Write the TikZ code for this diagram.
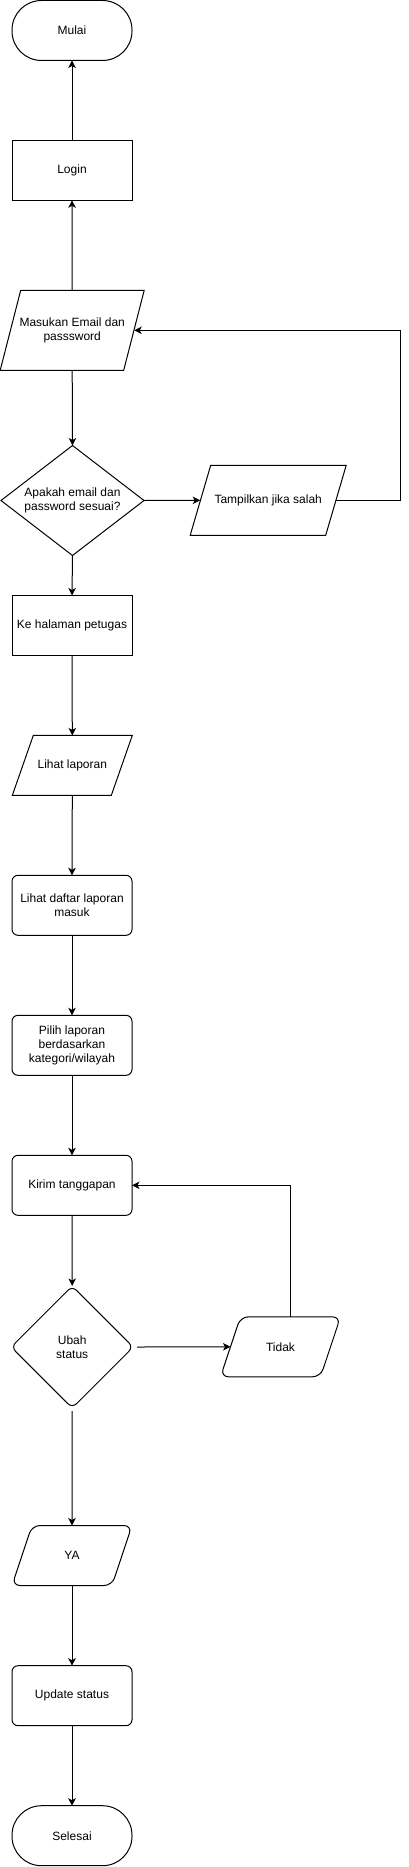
\documentclass[tikz,border=0pt]{standalone}
\usepackage{fontspec}
\setmainfont{Liberation Sans}
\usetikzlibrary{shapes.geometric,arrows.meta}
\newcommand{\drawpara}[3][]{\draw[line width=1pt,#1] ([xshift=#3pt]#2.north west) -- (#2.north east) -- ([xshift=-#3pt]#2.south east) -- (#2.south west) -- cycle;}
\begin{document}
\begin{tikzpicture}[x=1pt,y=-1pt,
  every node/.style={font=\fontsize{12}{14.4}\selectfont, align=center, inner sep=0pt, outer sep=0pt},
  base/.style={draw, line width=1pt, fill=white},
  term/.style={base, rectangle, rounded corners=29.5pt, minimum width=120pt, minimum height=60pt},
  proc/.style={base, rectangle, minimum width=120pt, minimum height=60pt},
  rproc/.style={proc, rounded corners=6pt},
  io/.style={rectangle, minimum width=120pt, minimum height=60pt},
  dec/.style={base, diamond, aspect=1.3},
  arr/.style={line width=1pt, -{Stealth[length=7.5pt,width=7.5pt,inset=2pt]}}
]
\useasboundingbox (0,0) rectangle (409,1867);

\node[term] (mulai) at (72,30.5) {Mulai};
\node[proc] (login) at (72,170.3) {Login};
\node[io, minimum width=144pt, minimum height=80pt] (mas) at (72.2,330.3) {Masukan Email dan\\passsword};
\drawpara{mas}{20.5}
\node[dec, minimum width=143pt, minimum height=110pt] (d1) at (72.5,500.5) {Apakah email dan\\password sesuai?};
\node[io, minimum width=156pt, minimum height=70pt] (tamp) at (268.2,500.3) {Tampilkan jika salah};
\drawpara{tamp}{20.5}
\node[proc] (ke) at (72,625.5) {Ke halaman petugas};
\node[io] (lihat) at (72.3,765.4) {Lihat laporan};
\drawpara{lihat}{21}
\node[rproc] (daftar) at (72,905.3) {Lihat daftar laporan\\masuk};
\node[rproc] (pilih) at (72,1045.3) {Pilih laporan\\berdasarkan\\kategori/wilayah};
\node[rproc] (kirim) at (72,1185.3) {Kirim tanggapan};
\node[dec, rounded corners=6pt, minimum width=122pt, minimum height=122pt] (d2) at (72.2,1347) {Ubah\\status};
\node[io] (tidak) at (280.5,1346.8) {Tidak};
\drawpara[rounded corners=8pt]{tidak}{20}
\node[io] (ya) at (72,1555.5) {YA};
\drawpara[rounded corners=8pt]{ya}{20}
\node[rproc] (upd) at (72,1695.7) {Update status};
\node[term] (sel) at (72,1835.7) {Selesai};

\coordinate (r1) at (400,0);

\draw[arr] (login.north) -- (mulai.south);
\draw[arr] (mas.north) -- (login.south);
\draw[arr] (mas.south) -- (d1.north);
\draw[arr] (d1.east) -- ([xshift=10pt]tamp.west);
\draw[arr] ([xshift=-10pt]tamp.east) -- (tamp.east -| r1) |- ([xshift=-10pt]mas.east);
\draw[arr] (d1.south) -- (ke.north);
\draw[arr] (ke.south) -- (lihat.north);
\draw[arr] (lihat.south) -- (daftar.north);
\draw[arr] (daftar.south) -- (pilih.north);
\draw[arr] (pilih.south) -- (kirim.north);
\draw[arr] (kirim.south) -- (d2.north);
\draw[arr] ([xshift=4pt]d2.east) -- ([xshift=10pt]tidak.west);
\draw[arr] ([xshift=10pt]tidak.north) |- (kirim.east);
\draw[arr] ([yshift=-3pt]d2.south) -- (ya.north);
\draw[arr] (ya.south) -- (upd.north);
\draw[arr] (upd.south) -- (sel.north);
\end{tikzpicture}
\end{document}
